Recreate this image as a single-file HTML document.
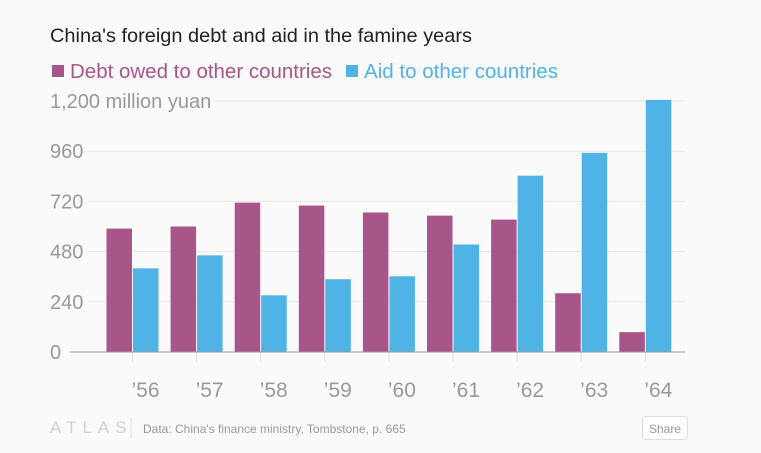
<!DOCTYPE html>
<html><head><meta charset="utf-8"><style>
body{margin:0;background:#fafafa;width:761px;height:448px;overflow:hidden;font-family:"Liberation Sans",sans-serif}
</style></head><body>
<svg width="761" height="448">
<text x="50" y="42" font-size="19.5" fill="#222" textLength="422" lengthAdjust="spacingAndGlyphs">China's foreign debt and aid in the famine years</text>
<rect x="52" y="65" width="12" height="12" fill="#a8558a"/>
<text x="70" y="78" font-size="20" fill="#a8558a" textLength="262" lengthAdjust="spacingAndGlyphs">Debt owed to other countries</text>
<rect x="346" y="65" width="12" height="12" fill="#50b3e6"/>
<text x="364" y="78" font-size="20" fill="#50b3e6" textLength="194" lengthAdjust="spacingAndGlyphs">Aid to other countries</text>
<g id="grid"></g><g id="bars"></g><g id="xaxis"></g>
<text x="50" y="433" font-size="17" fill="#d0d0d0" letter-spacing="6">ATLAS</text>
<line x1="131" y1="418" x2="131" y2="438" stroke="#ddd"/>
<text x="143" y="433" font-size="12" fill="#999">Data: China's finance ministry, Tombstone, p. 665</text>
<rect x="642.5" y="416.5" width="45" height="23" rx="3" fill="#fff" stroke="#ddd"/>
<text x="665" y="433" font-size="12" fill="#999" text-anchor="middle">Share</text>
</svg>
<script>
const years=["’56","’57","’58","’59","’60","’61","’62","’63","’64"];
const debt=[590,600,714,700,667,652,633,281,95];
const aid=[400,462,271,348,362,514,843,952,1205];
const ticks=[0,240,480,720,960,1200];
const tickLabels=["0","240","480","720","960","1,200 million yuan"];
const NS="http://www.w3.org/2000/svg";
const y=v=>352-v*(251/1200);
const xc=i=>132.5+i*64.1;
function mk(t,a,p){const e=document.createElementNS(NS,t);for(const k in a)e.setAttribute(k,a[k]);p.appendChild(e);return e;}
const g=document.getElementById('grid'),b=document.getElementById('bars'),xa=document.getElementById('xaxis');
ticks.forEach((t,i)=>{
 const lbl=mk('text',{x:50,y:y(t)+7,'font-size':20,fill:'#999'},g);lbl.textContent=tickLabels[i];
 
 
 if(t>0){
 const ln=mk('line',{x1:i==5?215:88,x2:685,y1:y(t),y2:y(t),stroke:'#e6e6e6'},g);
 
 }
});
years.forEach((yr,i)=>{
 const c=xc(i);
 const r1=mk('rect',{x:c-26,y:y(debt[i]),width:25.5,height:352-y(debt[i]),fill:'#a8558a'},b);
 
 
 const r2=mk('rect',{x:c+0.5,y:y(aid[i]),width:25.5,height:352-y(aid[i]),fill:'#50b3e6'},b);
 
 
 const tk=mk('line',{x1:c,x2:c,y1:352,y2:362,stroke:'#e0e0e0'},xa);
 
 
 const tl=mk('text',{x:c+13,y:397,'font-size':21,fill:'#999','text-anchor':'middle'},xa);tl.textContent=yr;
 
 
});
const base=mk('line',{x1:70,x2:685,y1:352,y2:352,stroke:'#999'},xa);


</script>
</body></html>
